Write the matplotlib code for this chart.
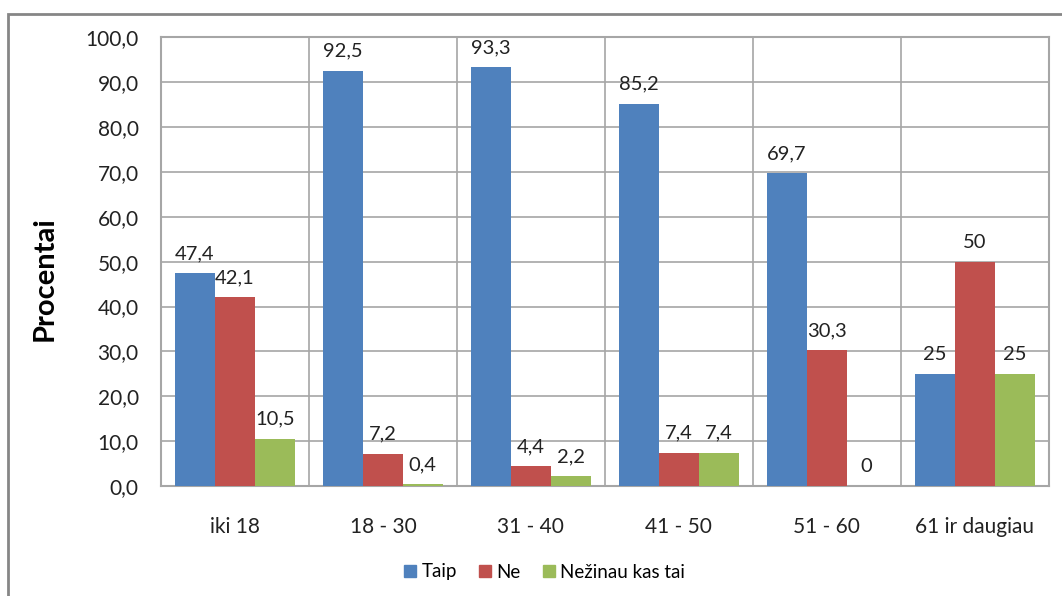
import numpy as np
import matplotlib.pyplot as plt
from matplotlib.patches import Rectangle
from matplotlib.lines import Line2D

plt.rcParams['font.family'] = ['Lato', 'DejaVu Sans']

grupes = ['iki 18', '18 - 30', '31 - 40', '41 - 50', '51 - 60', '61 ir daugiau']
taip = [47.4, 92.5, 93.3, 85.2, 69.7, 25]
ne = [42.1, 7.2, 4.4, 7.4, 30.3, 50]
nezinau = [10.5, 0.4, 2.2, 7.4, 0, 25]

serijos = [('Taip', taip, '#4F81BD'),
           ('Ne', ne, '#C0504D'),
           ('Nežinau kas tai', nezinau, '#9BBB59')]


def fmt(v):
    if v == int(v):
        return str(int(v))
    return ('%.1f' % v).replace('.', ',')


fig = plt.figure(figsize=(10.62, 5.96), dpi=100)
ax = fig.add_axes([161/1062, 110/596, (1048.7-161)/1062, (486-37.3)/596])

# remelis aplink visa diagrama
fig.patches.append(Rectangle((8/1062, -0.1), 1.2, 1.1 - 14/596,
                             transform=fig.transFigure, fill=False,
                             edgecolor='#868686', linewidth=2))

x = np.arange(len(grupes))
w = 0.27
for i, (vardas, reiksmes, spalva) in enumerate(serijos):
    pos = x + (i - 1) * w
    ax.bar(pos, reiksmes, width=w, color=spalva, label=vardas, zorder=3)
    for px_, v in zip(pos, reiksmes):
        ax.annotate(fmt(v), (px_, v), xytext=(0, 8), textcoords='offset points',
                    ha='center', va='bottom', fontsize=14.5, color='#222222')

ax.set_xlim(-0.5, len(grupes) - 0.5)
ax.set_ylim(0, 100)
ax.set_yticks(np.arange(0, 101, 10))
ax.set_yticklabels([('%.1f' % t).replace('.', ',') for t in np.arange(0, 101, 10)])
ax.set_xticks(x)
ax.set_xticklabels(grupes)
ax.set_xticks(x[:-1] + 0.5, minor=True)
ax.tick_params(axis='both', which='both', length=0, labelsize=15, colors='#222222')
ax.tick_params(axis='y', pad=16)
ax.tick_params(axis='x', pad=22)
ax.grid(axis='y', which='major', color='#a6a6a6', linewidth=1.2, zorder=0)
ax.grid(axis='x', which='minor', color='#a6a6a6', linewidth=1.2, zorder=0)
for s in ax.spines.values():
    s.set_color('#a6a6a6')
    s.set_linewidth(1.5)

fig.text(45/1062, 1 - 279/596, 'Procentai', rotation=90, ha='center', va='center',
         fontsize=21, fontweight='bold')

rankenos = [Line2D([], [], marker='s', linestyle='none', markersize=9,
                   markerfacecolor=c, markeredgecolor=c) for _, _, c in serijos]
fig.legend(rankenos, [s[0] for s in serijos], loc='center',
           bbox_to_anchor=(543/1062, 1 - 572/596), ncol=3, frameon=False,
           fontsize=13.5, handletextpad=0.1, columnspacing=1.0, handlelength=1.0)

fig.savefig('out.png', dpi=100)
